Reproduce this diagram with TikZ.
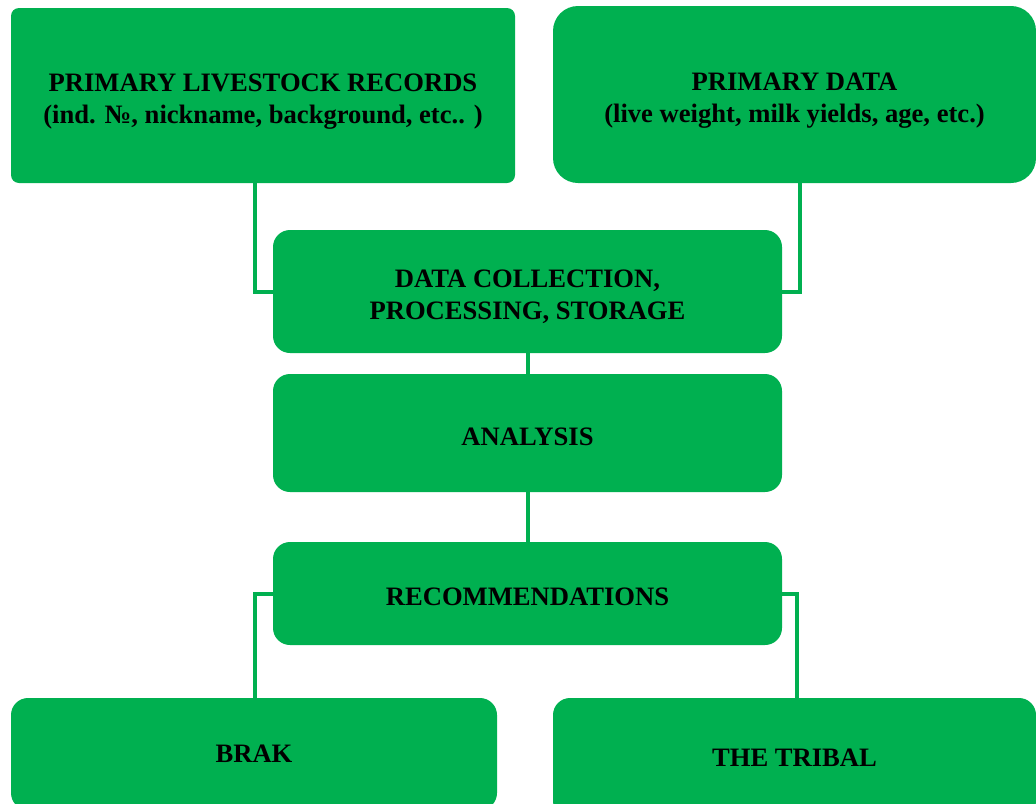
\documentclass[tikz,border=0pt]{standalone}
\usepackage{fontspec}
\setmainfont{Liberation Serif}
\definecolor{boxgreen}{HTML}{00B050}
\newcommand\boxtext[1]{\raisebox{-3pt}[\height][\depth]{\begin{tabular}{@{}c@{}}#1\end{tabular}}}
\begin{document}
\begin{tikzpicture}[x=0.5pt,y=-0.5pt,
  box/.style={fill=boxgreen,draw=none,inner sep=0pt,align=center,
    font=\fontsize{13.3pt}{16pt}\selectfont\bfseries,text=black},
  link/.style={draw=boxgreen,line width=2pt,line join=miter}]
\useasboundingbox (0,0) rectangle (1036,803);
\begin{scope}
\clip (0,0) rectangle (1036,803);
\node[box,minimum width=252pt,minimum height=87.5pt,rounded corners=4pt] (b1) at (263,95.5)
  {\boxtext{PRIMARY LIVESTOCK RECORDS\\(ind. №, nickname, background, etc.. )}};
\node[box,minimum width=241.5pt,minimum height=88.5pt,rounded corners=12.5pt] (b2) at (794.5,94.5)
  {\boxtext{PRIMARY DATA\\(live weight, milk yields, age, etc.)}};
\node[box,minimum width=254.5pt,minimum height=61.5pt,rounded corners=8.5pt] (b3) at (527.5,291.5)
  {\boxtext{DATA COLLECTION,\\PROCESSING, STORAGE}};
\node[box,minimum width=254.5pt,minimum height=59pt,rounded corners=8.5pt] (b4) at (527.5,433)
  {\boxtext{ANALYSIS}};
\node[box,minimum width=254.5pt,minimum height=51.5pt,rounded corners=8.5pt] (b5) at (527.5,593.5)
  {\boxtext{RECOMMENDATIONS}};
\node[box,minimum width=243pt,minimum height=56pt,rounded corners=8.5pt] (b6) at (254,754)
  {BRAK};
\node[box,minimum width=241.5pt,minimum height=60pt,rounded corners=8.5pt] (b7) at (794.5,758)
  {THE TRIBAL};
\draw[link] ([xshift=-4pt]b1.south) |- (b3.west);
\draw[link] ([xshift=2.75pt]b2.south) |- (b3.east);
\draw[link] (b3.south) -- (b4.north);
\draw[link] (b4.south) -- (b5.north);
\draw[link] (b5.west) -| ([xshift=0.5pt]b6.north);
\draw[link] (b5.east) -| ([xshift=1.25pt]b7.north);
\end{scope}
\end{tikzpicture}
\end{document}
